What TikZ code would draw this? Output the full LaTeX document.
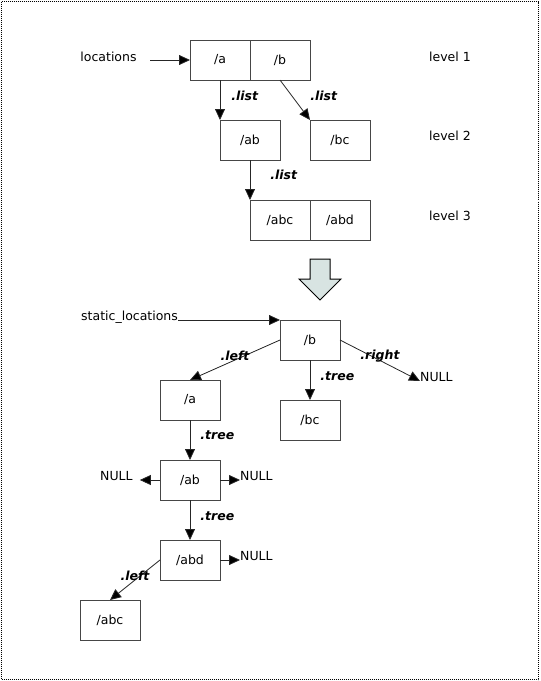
\documentclass[tikz,border=0pt]{standalone}
\usepackage{fontspec}
\setmainfont{DejaVu Sans}
\usetikzlibrary{arrows.meta,positioning}
\definecolor{linegray}{RGB}{70,70,70}
\definecolor{arrowfill}{RGB}{216,228,226}
\tikzset{
  box/.style={draw=linegray, line width=1pt, minimum width=60pt, minimum height=40pt, inner sep=0pt, outer sep=0pt},
  arr/.style={-{Triangle[length=11pt,width=10pt,fill=black]}, draw=black!85, line width=0.8pt},
  lbl/.style={font=\fontsize{12.5}{14}\selectfont\bfseries\itshape, inner sep=0pt},
  txt/.style={inner sep=0pt},
  nullnode/.style={inner sep=0pt, anchor=base west}
}

\begin{document}
\begin{tikzpicture}[x=1pt, y=-1pt, font=\fontsize{12.5}{14}\selectfont]
          \useasboundingbox (0,0) rectangle (541,681);
          \draw[black, line width=1pt, dash pattern=on 1pt off 1pt] (1.5,1.5) rectangle (538.5,679.5);
          % list levels
          \node (a1)  [box] at (220,60)       {/a};
          \node (b1)  [box, right=0pt of a1]  {/b};
          \node (ab)  [box] at (250,140)      {/ab};
          \node (bc)  [box] at (340,140)      {/bc};
          \node (abc) [box] at (280,220)      {/abc};
          \node (abd) [box, right=0pt of abc] {/abd};
          \node (loc) [txt] at (108.5,57) {locations};
          \coordinate (locstart) at (150,60);
          \node (lv1) [txt] at (450,57)  {level 1};
          \node (lv2) [txt] at (450,136) {level 2};
          \node (lv3) [txt] at (450,216) {level 3};
          \draw[arr] (locstart) to (a1.west);
          \draw[arr] (a1.south) to node[lbl, pos=0.4, right=11pt] {.list} (ab.north west);
          \draw[arr] (b1.south) to node[lbl, pos=0.4, right=18pt] {.list} (bc.north west);
          \draw[arr] (ab.south) to node[lbl, pos=0.375, right=20pt] {.list} (abc.north west);
          % transform arrow
          \draw[black, line width=1pt, fill=arrowfill] (310,259) -- (330,259) -- (330,279) -- (341,279)
            -- (320,300) -- (299,279) -- (310,279) -- cycle;
          % tree
          \node (sb)   [box] at (310,340) {/b};
          \node (sa)   [box] at (190,400) {/a};
          \node (sbc)  [box] at (310,420) {/bc};
          \node (sab)  [box] at (190,480) {/ab};
          \node (sabd) [box] at (190,560) {/abd};
          \node (sabc) [box] at (110,620) {/abc};
          \node (sl)   [txt, anchor=base west] at (81,320) {static\_locations};
          \node (nr)   [nullnode] at (420,381) {NULL};
          \node (nl)   [nullnode] at (100,480) {NULL};
          \node (nab)  [nullnode] at (240,480) {NULL};
          \node (nabd) [nullnode] at (240,560) {NULL};
          \draw[arr] (sl.base east) to (sb.north west);
          \draw[arr] (sb.west) to node[lbl, yshift=4pt] {.left} (sa.north);
          \draw[arr] (sb.east) to node[lbl, yshift=4pt] {.right} (nr.base west);
          \draw[arr] (sb.south) to node[lbl, pos=0.4, right=10pt] {.tree} (sbc.north);
          \draw[arr] (sa.south) to node[lbl, pos=0.375, right=10pt] {.tree} (sab.north);
          \draw[arr] (sab.west) to ([xshift=7pt]nl.base east);
          \draw[arr] (sab.east) to (nab.base west);
          \draw[arr] (sab.south) to node[lbl, pos=0.4, right=10pt] {.tree} (sabd.north);
          \draw[arr] (sabd.east) to (nabd.base west);
          \draw[arr] (sabd.west) to node[lbl, yshift=4pt] {.left} (sabc.north);
        \end{tikzpicture}
\end{document}
